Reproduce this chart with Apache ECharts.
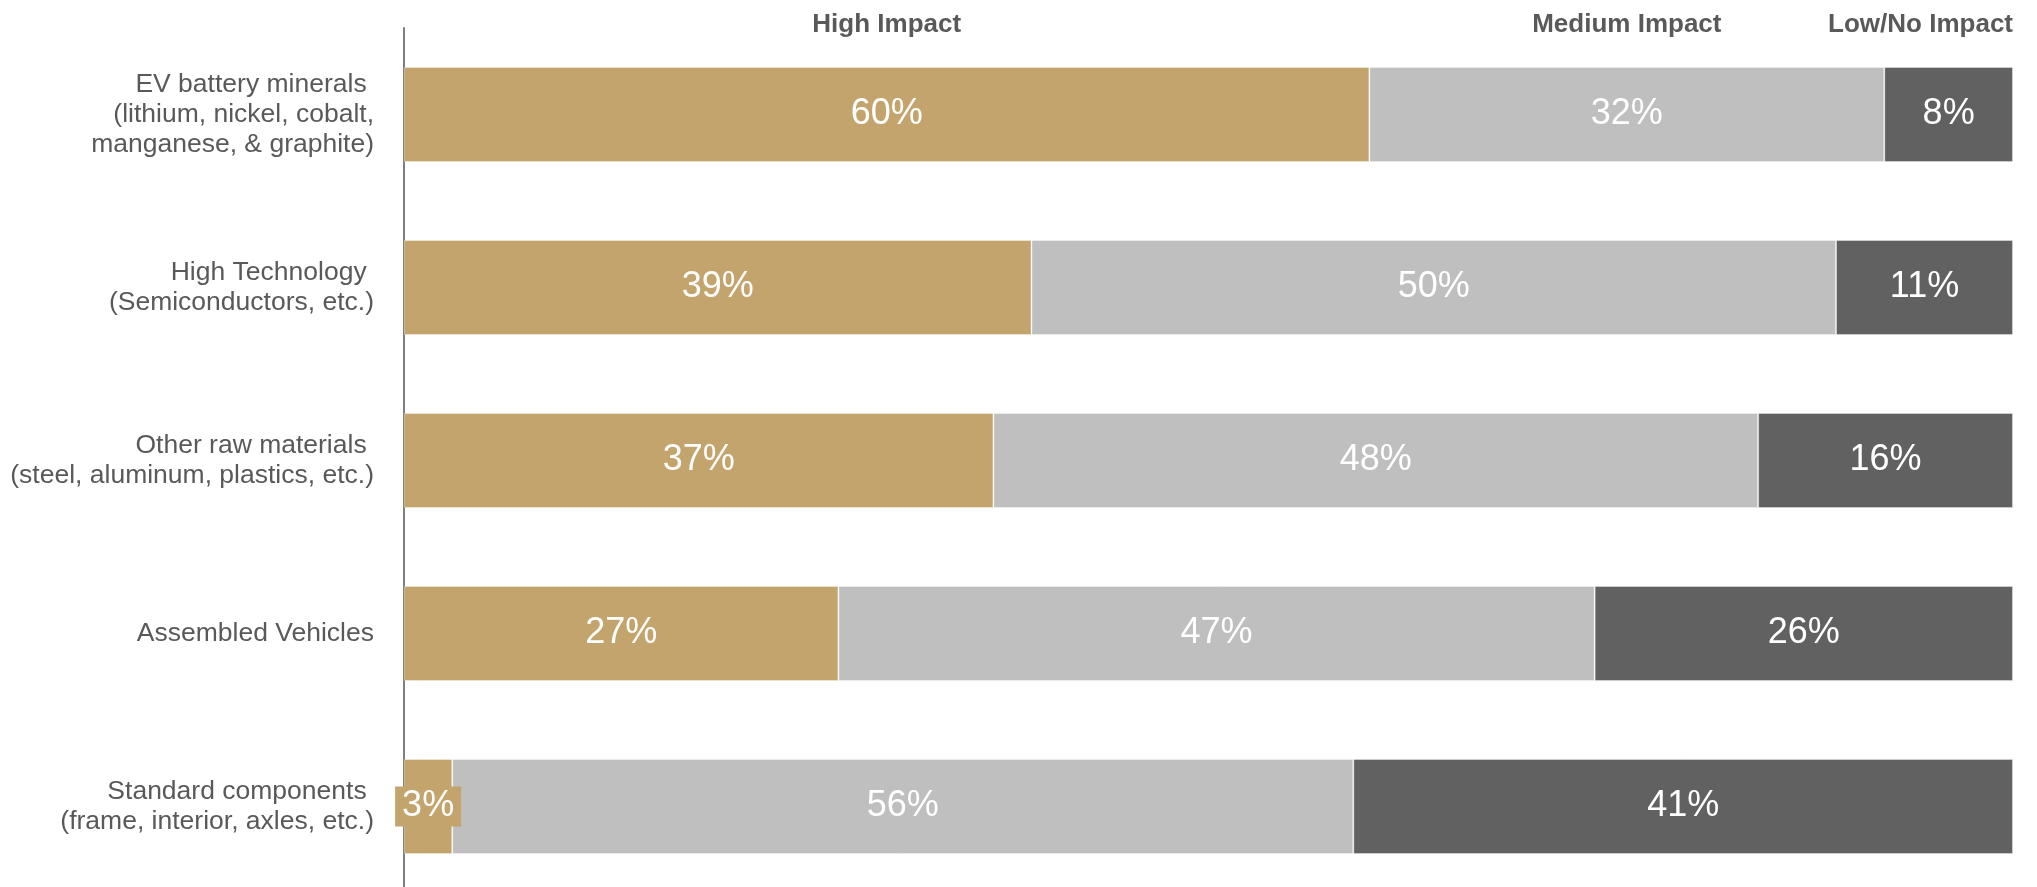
<!DOCTYPE html>
<html>
<head>
<meta charset="utf-8">
<script src="https://cdn.jsdelivr.net/npm/echarts@6/dist/echarts.min.js"></script>
<style>
  html, body { margin: 0; padding: 0; background: #ffffff; }
  #chart { width: 2037px; height: 887px; }
</style>
</head>
<body>
<div id="chart"></div>
<script>
// Supply-chain categories, top to bottom
const categories = [
  'EV battery minerals \n(lithium, nickel, cobalt,\nmanganese, & graphite)',
  'High Technology \n(Semiconductors, etc.)',
  'Other raw materials \n(steel, aluminum, plastics, etc.)',
  'Assembled Vehicles',
  'Standard components \n(frame, interior, axles, etc.)'
];

// Share of respondents per impact level (%)
const highImpact = [60, 39, 37, 27, 3];
const mediumImpact = [32, 50, 48, 47, 56];
const lowImpact = [8, 11, 16, 26, 41];

const seriesNames = ['High Impact', 'Medium Impact', 'Low/No Impact'];
const seriesColors = ['#C4A46D', '#BFBFBF', '#616161'];

const FONT = '"Liberation Sans", Arial, Helvetica, sans-serif';

// Each row is drawn as a 100% stacked bar
const rowTotals = categories.map((_, i) => highImpact[i] + mediumImpact[i] + lowImpact[i]);
const allValues = [highImpact, mediumImpact, lowImpact];

const series = allValues.map((vals, s) => ({
  name: seriesNames[s],
  type: 'bar',
  stack: 'total',
  barWidth: 95,
  itemStyle: { color: seriesColors[s], borderColor: 'rgba(255,255,255,0.35)', borderWidth: 1 },
  label: {
    show: true,
    position: 'inside',
    color: '#ffffff',
    fontFamily: FONT,
    fontSize: 36,
    formatter: p => vals[p.dataIndex] + '%'
  },
  data: vals.map((v, i) => {
    const item = { value: v / rowTotals[i] * 100 };
    // the narrow segment gets a filled backdrop so its label stays readable
    if (s === 0 && v < 5) {
      item.label = { backgroundColor: seriesColors[0], padding: [3, 7, 1, 7] };
    }
    return item;
  })
}));

const chart = echarts.init(document.getElementById('chart'));
chart.setOption({
  animation: false,
  backgroundColor: '#ffffff',
  grid: { left: 404, right: 24, top: 28, height: 865, outerBoundsMode: 'none', containLabel: false },
  xAxis: { type: 'value', min: 0, max: 100, show: false },
  yAxis: {
    type: 'category',
    inverse: true,
    data: categories,
    axisLine: { show: true, lineStyle: { color: '#7F7F7F', width: 2 } },
    axisTick: { show: false },
    axisLabel: {
      color: '#595959',
      fontFamily: FONT,
      fontSize: 26.5,
      lineHeight: 30,
      margin: 30,
      align: 'right'
    }
  },
  series: series
});

// Column headers above the first row, centred on its segments
const firstShares = allValues.map(vals => vals[0] / rowTotals[0] * 100);
let acc = 0;
const headerEls = firstShares.map((share, s) => {
  const start = acc;
  acc += share;
  const last = s === firstShares.length - 1;
  const x = chart.convertToPixel({ xAxisIndex: 0 }, last ? acc : start + share / 2);
  return {
    type: 'text',
    x: x,
    y: 25,
    style: {
      text: seriesNames[s],
      fill: '#595959',
      font: 'bold 26px ' + FONT,
      textAlign: last ? 'right' : 'center',
      textVerticalAlign: 'middle'
    }
  };
});
chart.setOption({ graphic: headerEls });
</script>
</body>
</html>
